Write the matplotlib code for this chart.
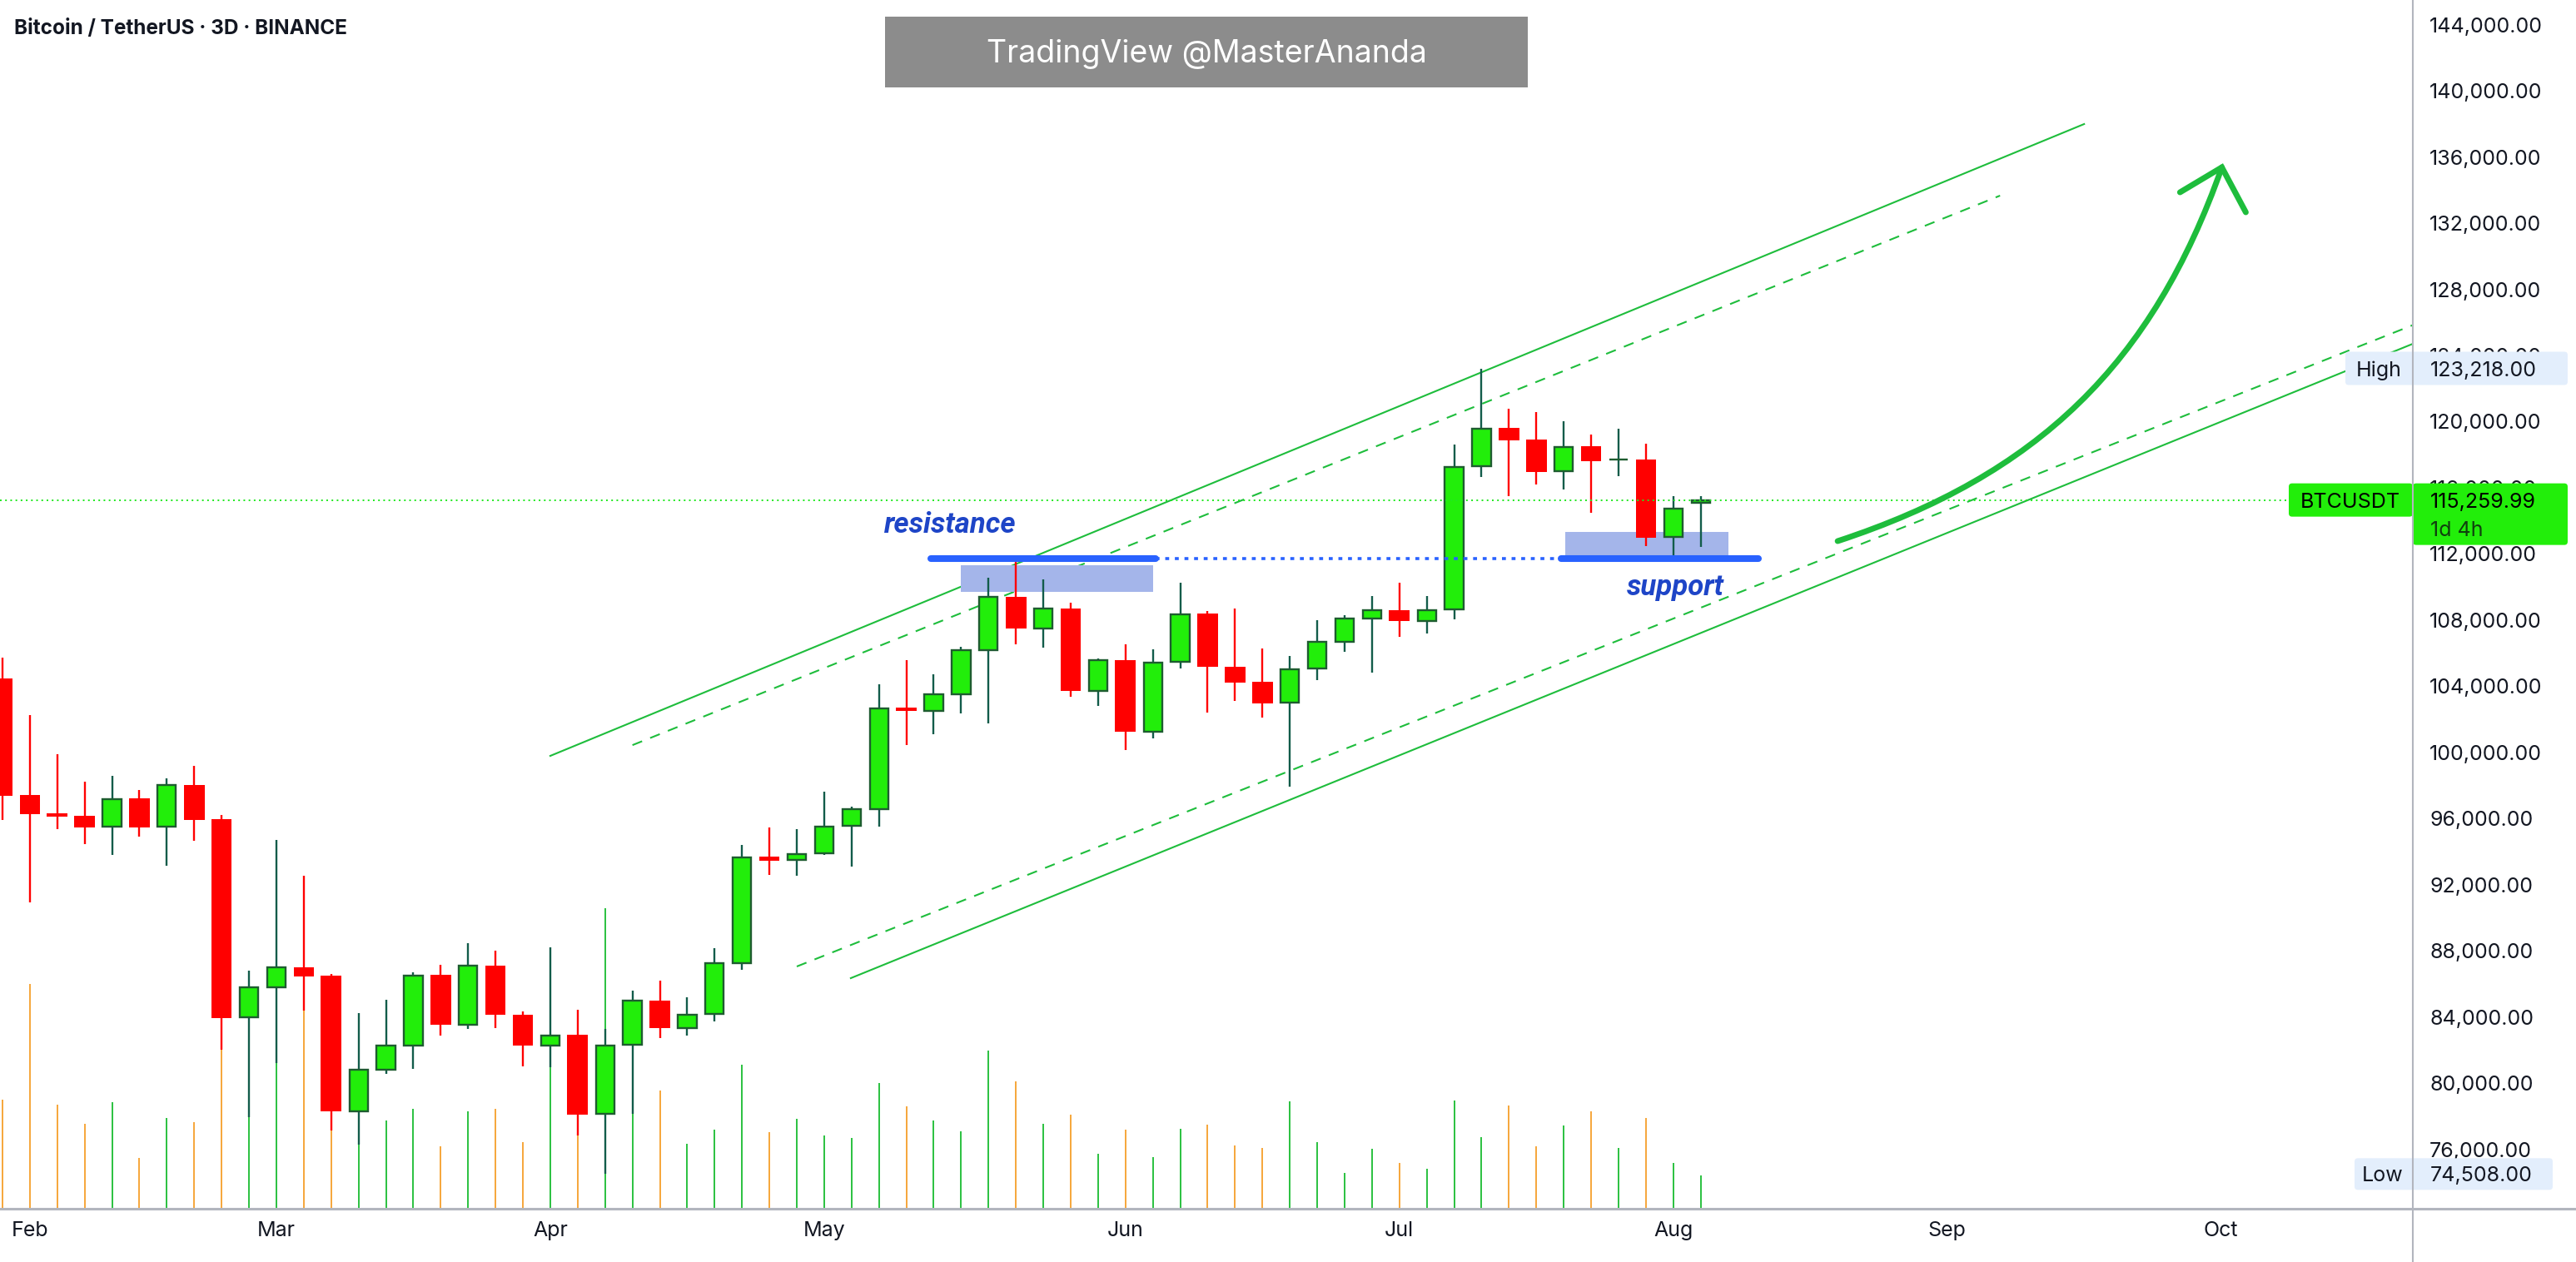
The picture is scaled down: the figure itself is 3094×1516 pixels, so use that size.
import pandas as pd
import matplotlib
matplotlib.use("Agg")
import matplotlib.pyplot as plt
import matplotlib.dates as mdates
from matplotlib.patches import Rectangle, FancyBboxPatch, PathPatch
from matplotlib.path import Path
from matplotlib.lines import Line2D
from matplotlib.transforms import IdentityTransform

plt.rcParams['font.family'] = ['Inter', 'DejaVu Sans']

# BTCUSDT 3D candles, first one opens 2025-01-31
FIRST_CANDLE = "2025-01-31"
OPEN = [104475, 97420, 96318, 96161, 95510, 97217, 95510, 98026, 95959, 83983,
        85780, 86994, 86500, 78298, 80814, 82275, 86545, 83533, 87106, 84140,
        82275, 82927, 78140, 82320, 84994, 83331, 84184, 87263, 93690, 93488,
        93892, 95563, 96574, 102686, 102507, 103540, 106169, 109405, 107495, 108708,
        103720, 105585, 101226, 105472, 108394, 105180, 104259, 103001, 105068, 106686,
        108079, 108596, 107944, 108641, 117291, 119603, 118897, 117008, 118491, 117732,
        117714, 113019, 115080]
HIGH = [105734, 102251, 99891, 98228, 98588, 97734, 98431, 99195, 96206, 86800,
        94701, 92521, 86612, 84230, 85039, 86724, 87173, 88454, 88005, 84320,
        88207, 84432, 83286, 85600, 86207, 85196, 88162, 94409, 95465, 95353,
        97608, 96700, 104124, 105585, 104731, 106371, 110551, 111697, 110461, 109045,
        105675, 106529, 106236, 110259, 108551, 108708, 106281, 105832, 107989, 108304,
        109450, 110259, 109450, 118597, 123218, 120768, 120574, 120027, 119215, 119568,
        118667, 115490, 115490]
LOW = [95892, 90948, 95375, 94454, 93824, 94925, 93128, 94633, 82005, 77966,
       81219, 84387, 77129, 76275, 80545, 80882, 82904, 83300, 83308, 80994,
       80950, 76859, 74508, 78140, 82747, 82859, 83713, 86837, 92611, 92566,
       93800, 93114, 95518, 100462, 101114, 102372, 101765, 106551, 106349, 103383,
       102821, 100125, 100866, 105090, 102417, 103136, 102125, 97945, 104394, 106102,
       104844, 107001, 107203, 108058, 116673, 115508, 116214, 115914, 114502, 116708,
       112471, 111694, 112418]
CLOSE = [97397, 96273, 96139, 95487, 97195, 95487, 98026, 95937, 83960, 85780,
         86994, 86477, 78275, 80791, 82253, 86522, 83511, 87083, 84117, 82253,
         82904, 78117, 82298, 84971, 83308, 84162, 87241, 93667, 93465, 93869,
         95532, 96551, 102664, 102484, 103495, 106169, 109383, 107472, 108686, 103697,
         105562, 101226, 105450, 108371, 105158, 104237, 102978, 105046, 106664, 108079,
         108574, 107922, 108619, 117273, 119585, 118879, 116973, 118473, 117626, 117732,
         113001, 114749, 115259.99]
VOLUME = [131, 270, 125, 102, 128, 61, 109, 104, 250, 115,
          175, 240, 120, 90, 106, 120, 75, 117, 120, 80,
          175, 100, 361, 115, 142, 78, 95, 173, 92, 108,
          88, 85, 151, 123, 106, 93, 190, 153, 102, 113,
          66, 95, 62, 96, 101, 76, 73, 129, 80, 43,
          72, 55, 48, 130, 86, 124, 75, 100, 117, 73,
          109, 55, 40]

PRICE_TICKS = list(range(76000, 144001, 4000))

# drawings on the chart (date, price)
UPPER_SOLID = (["2025-04-01", "2025-09-16"], [99790, 137990])
UPPER_DASHED = (["2025-04-10", "2025-09-06 19:00"], [100440, 133662])
LOWER_SOLID = (["2025-05-03 22:00", "2025-10-25"], [86352, 125376])
LOWER_DASHED = (["2025-04-28", "2025-10-25"], [87057, 126492])
LEVEL = 111700
RESIST_SEG = ["2025-05-12 17:00", "2025-06-06 07:00"]
DOTTED_SEG = ["2025-06-06 07:00", "2025-07-20 17:00"]
SUPPORT_SEG = ["2025-07-20 17:00", "2025-08-11 07:00"]
RESIST_BOX = (["2025-05-16", "2025-06-06"], [109705, 111316])
SUPPORT_BOX = (["2025-07-21 04:00", "2025-08-08"], [111920, 113334])
RESIST_TEXT = ("2025-05-14 19:00", 113782)
SUPPORT_TEXT = ("2025-08-02 05:00", 110007)
ARROW_CURVE = (["2025-08-20", "2025-09-10 22:00", "2025-09-23 12:00", "2025-10-01 02:00"],
               [112775, 116751, 123496, 135373])
ARROW_HEAD = (["2025-09-26 12:00", "2025-10-01 02:00", "2025-10-03 17:00"],
              [133863, 135373, 132656])
HIGH_VALUE = 123218.00
LOW_VALUE = 74508.00

GREEN = '#22ee0a'
GREEN_EDGE = '#1e5c30'
GREEN_WICK = '#125c4a'
RED = '#ff0000'
CHANNEL = '#1ebd3c'
BLUE = '#2962ff'
BOX_BLUE = '#a4b5ea'
TXT = '#131722'
AXIS_GREY = '#b2b5be'

W, H = 3094, 1516


def dn(s):
    return mdates.date2num(pd.Timestamp(s))


def dnl(lst):
    return [dn(s) for s in lst]


fig = plt.figure(figsize=(W / 100, H / 100), dpi=100)
fig.patch.set_facecolor('white')
ax = fig.add_axes([0, 64 / H, 2898 / W, 1452 / H])
ax.patch.set_visible(False)
vax = ax.twinx()
vax.set_zorder(ax.get_zorder() - 1)
vax.axis('off')

dates = pd.date_range(FIRST_CANDLE, periods=len(OPEN), freq="3D")
x = mdates.date2num(dates)
up = [c >= o for o, c in zip(OPEN, CLOSE)]

x0 = dn(FIRST_CANDLE)
ax.set_xlim(x0 - 0.27, x0 + 264)
ax.set_ylim(72411, 145490)
vax.set_ylim(0, 1452)

# volume
vax.vlines(x, 0, VOLUME, colors=['#2ac13f' if u else '#f6a63a' for u in up], lw=1.4)

# wicks
ax.vlines(x, LOW, HIGH, colors=[GREEN_WICK if u else RED for u in up], lw=1.7, zorder=3)

# bodies
for xi, o, c, u in zip(x, OPEN, CLOSE, up):
    if u:
        ax.bar(xi, c - o, bottom=o, width=2.03, color=GREEN, edgecolor=GREEN_EDGE,
               linewidth=1.7, zorder=4)
    else:
        ax.bar(xi, c - o, bottom=o, width=2.25, color=RED, linewidth=0, zorder=4)

# channel
for (d, p), ls in [(UPPER_SOLID, '-'), (LOWER_SOLID, '-'),
                   (UPPER_DASHED, (0, (6, 5))), (LOWER_DASHED, (0, (6, 5)))]:
    ax.plot(dnl(d), p, color=CHANNEL, lw=1.5, linestyle=ls, zorder=2)

# support / resistance boxes
for d, p in [RESIST_BOX, SUPPORT_BOX]:
    xs = dnl(d)
    ax.add_patch(Rectangle((xs[0], p[0]), xs[1] - xs[0], p[1] - p[0],
                           facecolor=BOX_BLUE, edgecolor='none', zorder=2.5))

# level lines
for seg in [RESIST_SEG, SUPPORT_SEG]:
    ax.plot(dnl(seg), [LEVEL, LEVEL], color=BLUE, lw=5.8, solid_capstyle='round', zorder=6)
ax.plot(dnl(DOTTED_SEG), [LEVEL, LEVEL], color=BLUE, lw=2.6,
        linestyle=(0, (1.3, 1.9)), dash_capstyle='butt', zorder=6)

ax.text(dn(RESIST_TEXT[0]), RESIST_TEXT[1], 'resistance', color='#1e45c7',
        fontsize=25, fontweight='bold', fontstyle='italic',
        family=['Roboto', 'DejaVu Sans'], ha='center', va='center', zorder=7)
ax.text(dn(SUPPORT_TEXT[0]), SUPPORT_TEXT[1], 'support', color='#1e45c7',
        fontsize=25, fontweight='bold', fontstyle='italic',
        family=['Roboto', 'DejaVu Sans'], ha='center', va='center', zorder=7)

# current price line
ax.axhline(CLOSE[-1], color='#1fe81f', lw=1.4, linestyle=(0, (1, 2.2)), zorder=5)

# arrow
cx = dnl(ARROW_CURVE[0])
curve = Path(list(zip(cx, ARROW_CURVE[1])),
             [Path.MOVETO, Path.CURVE4, Path.CURVE4, Path.CURVE4])
ax.add_patch(PathPatch(curve, facecolor='none', edgecolor=CHANNEL, lw=5,
                       capstyle='round', zorder=7))
ax.plot(dnl(ARROW_HEAD[0]), ARROW_HEAD[1], color=CHANNEL, lw=5,
        solid_capstyle='round', solid_joinstyle='miter', zorder=7)

# axes styling
for sp in ax.spines.values():
    sp.set_visible(False)
ax.yaxis.tick_right()
ax.set_yticks(PRICE_TICKS)
ax.set_yticklabels([f'{v:,.2f}' for v in PRICE_TICKS])
ax.tick_params(axis='y', length=0, pad=14.4, labelsize=18, labelcolor=TXT)

grid = pd.date_range(FIRST_CANDLE, periods=100, freq="3D")
months = pd.date_range("2025-02-01", "2025-10-01", freq="MS")
mticks = [grid[grid >= m][0] for m in months]
ax.set_xticks(mdates.date2num(mticks))
ax.set_xticklabels([m.strftime('%b') for m in months])
ax.tick_params(axis='x', length=0, pad=10.5, labelsize=18, labelcolor=TXT)

# frame lines
fig.add_artist(Line2D([2898, 2898], [0, H], color=AXIS_GREY, lw=1.5,
                      transform=IdentityTransform(), zorder=2))
fig.add_artist(Line2D([0, W], [H - 1452, H - 1452], color=AXIS_GREY, lw=2.2,
                      transform=IdentityTransform(), zorder=2))


def ypx(price):
    return ax.transData.transform((x0, price))[1]


def fbox(x1, x2, yc, h, color):
    fig.add_artist(FancyBboxPatch((x1, yc - h / 2), x2 - x1, h,
                                  boxstyle='round,pad=0,rounding_size=4',
                                  facecolor=color, edgecolor='none',
                                  transform=IdentityTransform(), zorder=1.5))


def ftext(xp, yp, s, **kw):
    fig.text(xp, yp, s, transform=IdentityTransform(), zorder=3, **kw)


# High label
yh = ypx(HIGH_VALUE)
fbox(2817, 3084, yh, 40, '#e3eefc')
ftext(2857, yh, 'High', fontsize=18, color=TXT, ha='center', va='center_baseline')
ftext(2919, yh, f'{HIGH_VALUE:,.2f}', fontsize=18, color=TXT, ha='left', va='center_baseline')

# Low label
yl = ypx(LOW_VALUE)
fbox(2828, 3066, yl, 38, '#e3eefc')
ftext(2862, yl, 'Low', fontsize=18, color=TXT, ha='center', va='center_baseline')
ftext(2919, yl, f'{LOW_VALUE:,.2f}', fontsize=18, color=TXT, ha='left', va='center_baseline')

# current price label
yc = ypx(CLOSE[-1])
fbox(2749, 2898, yc, 40, GREEN)
fig.add_artist(FancyBboxPatch((2898, yc - 54), 186, 74,
                              boxstyle='round,pad=0,rounding_size=4',
                              facecolor=GREEN, edgecolor='none',
                              transform=IdentityTransform(), zorder=1.5))
ftext(2823, yc, 'BTCUSDT', fontsize=18, color='black', ha='center', va='center_baseline')
ftext(2919, yc, f'{CLOSE[-1]:,.2f}', fontsize=18, color='black', ha='left', va='center_baseline')
ftext(2919, yc - 34, '1d 4h', fontsize=18, color='#10400e', ha='left', va='center_baseline')

# title and watermark
ftext(17, H - 41, 'Bitcoin / TetherUS · 3D · BINANCE', fontsize=17.5,
      fontweight='bold', color=TXT, ha='left', va='baseline')
fig.add_artist(Rectangle((1063, H - 105), 772, 85, facecolor='#8c8c8c',
                         edgecolor='none', transform=IdentityTransform(), zorder=1.5))
ftext(1449, H - 65, 'TradingView @MasterAnanda', fontsize=27, color='white',
      ha='center', va='center')

fig.savefig('out.png', dpi=100)
